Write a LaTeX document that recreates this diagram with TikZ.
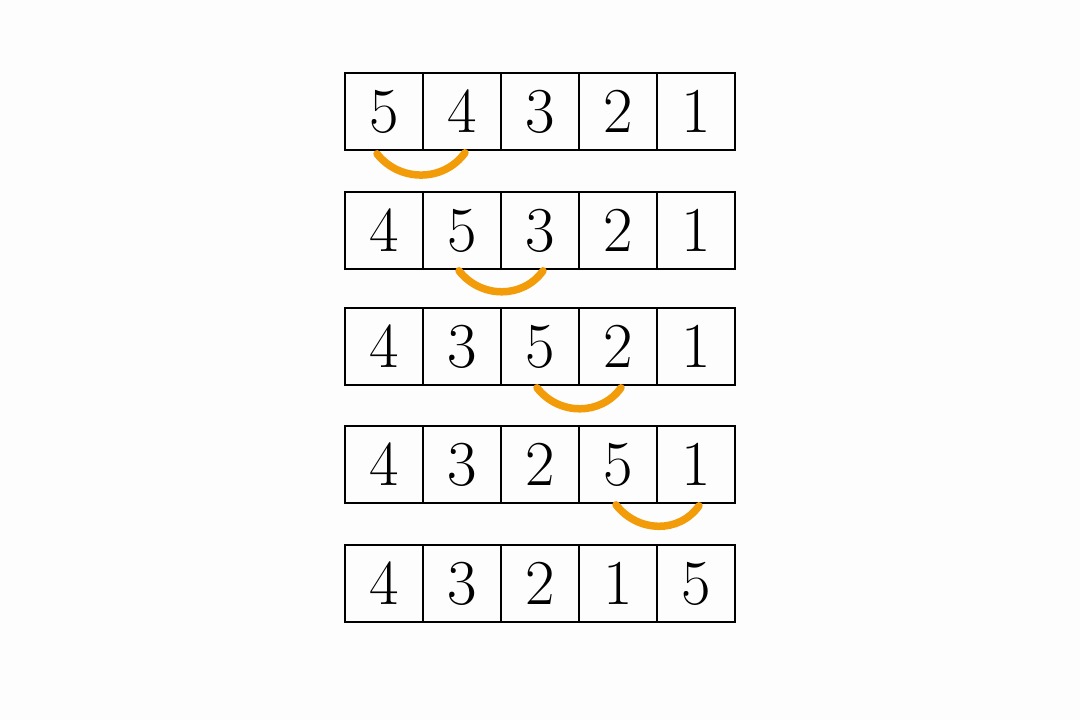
\documentclass[tikz,border=0pt]{standalone}
\usetikzlibrary{calc}
\definecolor{bg}{RGB}{253,253,253}
\definecolor{swaporange}{RGB}{243,156,10}
\begin{document}
\begin{tikzpicture}[x=1pt,y=-1pt,
  cell/.style={draw=black,line width=1.6pt,minimum width=78pt,minimum height=77pt,inner sep=0pt,
    font=\fontsize{64}{64}\selectfont},
  swaparc/.style={draw=swaporange,line width=7.5pt,line cap=round}]
\fill[bg] (0,0) rectangle (1080,720);
\useasboundingbox (0,0) rectangle (1080,720);
\foreach \r/\y/\a/\b/\c/\d/\e in {1/111.5/5/4/3/2/1, 2/230.5/4/5/3/2/1, 3/346.5/4/3/5/2/1, 4/464.5/4/3/2/5/1, 5/583.5/4/3/2/1/5}{
  \node[cell] (r\r c1) at (384,\y) {\a};
  \node[cell] (r\r c2) at (462,\y) {\b};
  \node[cell] (r\r c3) at (540,\y) {\c};
  \node[cell] (r\r c4) at (618,\y) {\d};
  \node[cell] (r\r c5) at (696,\y) {\e};
}
\draw[swaparc] ($(r1c1.south)+(-7,3)$) .. controls +(22,28) and +(-22,30) .. ($(r1c2.south)+(3,2)$);
\draw[swaparc] ($(r2c2.south)+(-3,1)$) .. controls +(22,28) and +(-20,28) .. ($(r2c3.south)+(3,1)$);
\draw[swaparc] ($(r3c3.south)+(-3,2)$) .. controls +(22,28) and +(-20,28) .. ($(r3c4.south)+(3,2)$);
\draw[swaparc] ($(r4c4.south)+(-2,1)$) .. controls +(22,28) and +(-20,28) .. ($(r4c5.south)+(3,2)$);
\end{tikzpicture}
\end{document}
